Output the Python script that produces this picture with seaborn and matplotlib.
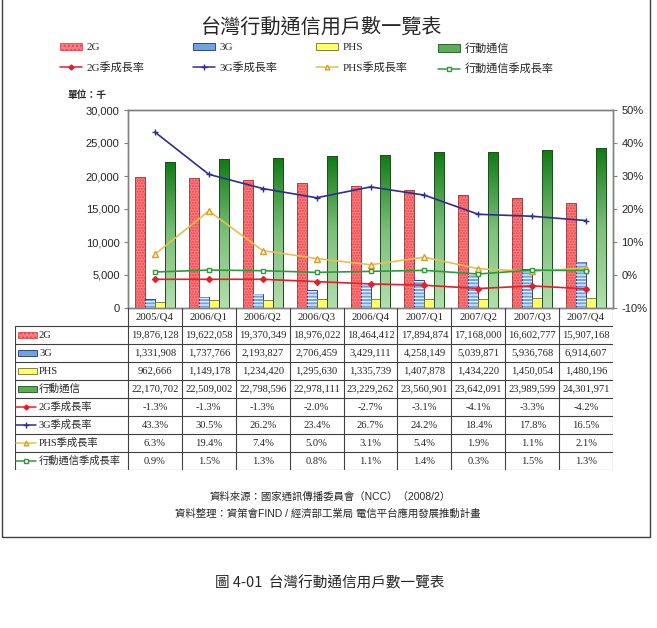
import numpy as np
import pandas as pd
import seaborn as sns
import matplotlib.pyplot as plt
from matplotlib.patches import Rectangle, Patch
from matplotlib.lines import Line2D
from matplotlib.colors import LinearSegmentedColormap

sns.set_theme(style="white")
plt.rcParams['font.family'] = ['Liberation Sans', 'Noto Sans CJK TC']

quarters = ["2005/Q4", "2006/Q1", "2006/Q2", "2006/Q3", "2006/Q4",
            "2007/Q1", "2007/Q2", "2007/Q3", "2007/Q4"]
subs_2g = [19876128, 19622058, 19370349, 18976022, 18464412, 17894874, 17168000, 16602777, 15907168]
subs_3g = [1331908, 1737766, 2193827, 2706459, 3429111, 4258149, 5039871, 5936768, 6914607]
subs_phs = [962666, 1149178, 1234420, 1295630, 1335739, 1407878, 1434220, 1450054, 1480196]
subs_all = [22170702, 22509002, 22798596, 22978111, 23229262, 23560901, 23642091, 23989599, 24301971]
growth_2g = [-1.3, -1.3, -1.3, -2.0, -2.7, -3.1, -4.1, -3.3, -4.2]
growth_3g = [43.3, 30.5, 26.2, 23.4, 26.7, 24.2, 18.4, 17.8, 16.5]
growth_phs = [6.3, 19.4, 7.4, 5.0, 3.1, 5.4, 1.9, 1.1, 2.1]
growth_all = [0.9, 1.5, 1.3, 0.8, 1.1, 1.4, 0.3, 1.5, 1.3]

bar_names = ["2G", "3G", "PHS", "行動通信"]
line_names = ["2G季成長率", "3G季成長率", "PHS季成長率", "行動通信季成長率"]

W, H = 657, 628
fig = plt.figure(figsize=(W / 100, H / 100), dpi=100)
fig.patch.set_facecolor("white")

def fx(px):
    return px / W

def fy(py):
    return 1 - py / H

# main plot area
ax = fig.add_axes([fx(128), fy(308), fx(613) - fx(128), fy(110) - fy(308)])

df = pd.DataFrame({
    "quarter": quarters * 4,
    "series": np.repeat(bar_names, len(quarters)),
    "value": np.array(subs_2g + subs_3g + subs_phs + subs_all) / 1000,
})

bar_face = {"2G": "#FF7C80", "3G": "#6FA3E6", "PHS": "#FFFF66", "行動通信": "#2E8B2E"}
bar_edge = {"2G": "#7A3030", "3G": "#26306A", "PHS": "#6E6E30", "行動通信": "#1E4E1E"}

sns.barplot(data=df, x="quarter", y="value", hue="series", hue_order=bar_names,
            palette=[bar_face[n] for n in bar_names], width=0.74, gap=0,
            saturation=1, errorbar=None, legend=False, ax=ax,
            edgecolor="#404040", linewidth=0.6)

green_cmap = LinearSegmentedColormap.from_list("grn", ["#B4DEAF", "#7CC07A", "#0F7A14"])
grad = np.linspace(0, 1, 256).reshape(-1, 1)

for name, cont in zip(bar_names, ax.containers):
    for bar in cont:
        bar.set_edgecolor(bar_edge[name])
        x, w, h = bar.get_x(), bar.get_width(), bar.get_height()
        if name == "2G":
            ax.bar(x, h, width=w, align="edge", facecolor="none", edgecolor="#E04848",
                   hatch="......", linewidth=0, zorder=2.1)
        elif name == "3G":
            ax.bar(x, h, width=w, align="edge", facecolor="none", edgecolor="#E8F0FF",
                   hatch="-----", linewidth=0, zorder=2.1)
        elif name == "行動通信":
            im = ax.imshow(grad, cmap=green_cmap, origin="lower", aspect="auto",
                           extent=(x, x + w, 0, h), zorder=2.1)
            im.set_clip_path(bar)
            ax.bar(x, h, width=w, align="edge", facecolor="none",
                   edgecolor=bar_edge[name], linewidth=0.7, zorder=2.2)

ax.set_xlim(-0.5, len(quarters) - 0.5)
ax.set_ylim(0, 30000)
ax.set_yticks(range(0, 30001, 5000))
ax.set_yticklabels([f"{v:,}" for v in range(0, 30001, 5000)], fontsize=8)
ax.set_xticks([])
ax.set_xlabel("")
ax.set_ylabel("")
ax.tick_params(axis="y", direction="out", length=3, width=0.8, color="#808080", pad=3)
for s in ax.spines.values():
    s.set_color("#808080")
    s.set_linewidth(1)

# growth-rate lines on the right axis
ax2 = ax.twinx()
line_style = {
    "2G季成長率": dict(color="#E0202A", marker="D", markersize=3.0, mfc="#E0202A", mec="#E0202A"),
    "3G季成長率": dict(color="#2E2E8C", marker="+", markersize=4.5, mfc="#2E2E8C", mec="#2E2E8C"),
    "PHS季成長率": dict(color="#E8BE50", marker="^", markersize=4.0, mfc="#FFF3B0", mec="#D4A030"),
    "行動通信季成長率": dict(color="#2E9A3A", marker="s", markersize=3.5, mfc="white", mec="#2E9A3A"),
}
pos = np.arange(len(quarters))
for name, vals in zip(line_names, [growth_2g, growth_3g, growth_phs, growth_all]):
    st = line_style[name]
    sns.lineplot(x=pos, y=vals, ax=ax2, color=st["color"], linewidth=1.2,
                 marker=st["marker"], markersize=st["markersize"],
                 markerfacecolor=st["mfc"], markeredgecolor=st["mec"], markeredgewidth=1)
ax2.set_ylim(-10, 50)
ax2.set_yticks(range(-10, 51, 10))
ax2.set_yticklabels([f"{v}%" for v in range(-10, 51, 10)], fontsize=8)
ax2.set_ylabel("")
ax2.tick_params(axis="y", direction="out", length=3, width=0.8, color="#808080", pad=3)
for s in ax2.spines.values():
    s.set_color("#808080")
    s.set_linewidth(1)
ax.set_xlim(-0.5, len(quarters) - 0.5)

# legend (four columns of two entries)
bar_handles = [
    Patch(facecolor=bar_face["2G"], edgecolor="#E04848", hatch="....", lw=0.6),
    Patch(facecolor=bar_face["3G"], edgecolor="#26306A", lw=0.6),
    Patch(facecolor=bar_face["PHS"], edgecolor="#6E6E30", lw=0.6),
    Patch(facecolor="#5AAE5A", edgecolor="#1E4E1E", lw=0.6),
]
line_handles = [Line2D([], [], color=line_style[n]["color"], lw=1.1, marker=line_style[n]["marker"],
                       markersize=line_style[n]["markersize"] * 0.85, mfc=line_style[n]["mfc"],
                       mec=line_style[n]["mec"]) for n in line_names]
leg_x = [60, 193, 316, 438]
for i in range(4):
    fig.legend(handles=[bar_handles[i], line_handles[i]], labels=[bar_names[i], line_names[i]],
               loc="upper left", bbox_to_anchor=(fx(leg_x[i]), fy(43)), frameon=False,
               handlelength=2.0, handleheight=0.6, handletextpad=0.4,
               labelspacing=0.85, borderpad=0, borderaxespad=0,
               prop={"family": ["Liberation Serif", "Noto Sans CJK TC"], "size": 8})

fig.text(fx(68), fy(95), "單位：千", fontsize=7, fontweight="bold", va="center", ha="left")

fig.text(fx(322), fy(28), "台灣行動通信用戶數一覽表", fontsize=14.5, ha="center", va="center",
         family=["Noto Sans CJK TC"])

# data table under the chart
cw = (613 - 128) / len(quarters)
x0 = -0.5 - (128 - 15) / cw
tax = fig.add_axes([fx(15), fy(470), fx(613) - fx(15), fy(308) - fy(470)])
tax.set_xlim(x0, len(quarters) - 0.5)
tax.set_ylim(8, -1)
tax.axis("off")

def ux(px):
    return (px - 128) / cw - 0.5

lc = "#404040"
for k in range(len(quarters) + 1):
    tax.plot([k - 0.5, k - 0.5], [-1, 8], color=lc, lw=0.8)
tax.plot([x0, x0], [0, 8], color=lc, lw=0.8)
for r in range(9):
    tax.plot([x0, len(quarters) - 0.5], [r, r], color=lc, lw=0.8)

serif = ["Liberation Serif", "Noto Sans CJK TC"]
for j, q in enumerate(quarters):
    tax.text(j, -0.5, q, ha="center", va="center", fontsize=7.8, family=serif)

rows = [subs_2g, subs_3g, subs_phs, subs_all, growth_2g, growth_3g, growth_phs, growth_all]
for r, vals in enumerate(rows):
    for j, v in enumerate(vals):
        txt = f"{v:,}" if r < 4 else f"{v:.1f}%"
        tax.text(j, r + 0.5, txt, ha="center", va="center", fontsize=7.6, family=serif)

for r, name in enumerate(bar_names):
    h = bar_handles[r]
    tax.add_patch(Rectangle((ux(18), r + 0.33), ux(37) - ux(18), 0.34,
                            facecolor=h.get_facecolor(), edgecolor=h.get_edgecolor(),
                            hatch=h.get_hatch(), lw=0.6))
    tax.text(ux(39), r + 0.5, name, ha="left", va="center", fontsize=7.6, family=serif)
for r, name in enumerate(line_names):
    st = line_style[name]
    yy = r + 4.5
    tax.plot([ux(16), ux(36)], [yy, yy], color=st["color"], lw=1.1)
    tax.plot([ux(26)], [yy], marker=st["marker"], markersize=st["markersize"] * 0.85,
             mfc=st["mfc"], mec=st["mec"], color=st["color"])
    tax.text(ux(39), yy, name, ha="left", va="center", fontsize=7.4, family=serif)

# source notes
fig.text(fx(330), fy(497), "資料來源：國家通訊傳播委員會（NCC）（2008/2）", fontsize=7.5,
         ha="center", va="center")
fig.text(fx(328), fy(514), "資料整理：資策會FIND / 經濟部工業局 電信平台應用發展推動計畫", fontsize=7.5,
         ha="center", va="center")

# outer frame and caption
fig.add_artist(Rectangle((fx(2), fy(537)), fx(650) - fx(2), fy(-5) - fy(537), fill=False,
                         edgecolor="#404040", lw=1, transform=fig.transFigure))
fig.text(fx(330), fy(583), "圖 4-01  台灣行動通信用戶數一覽表", fontsize=10.5, ha="center", va="center",
         family=["Noto Sans CJK TC"])

fig.savefig("out.png", dpi=100, facecolor="white")
